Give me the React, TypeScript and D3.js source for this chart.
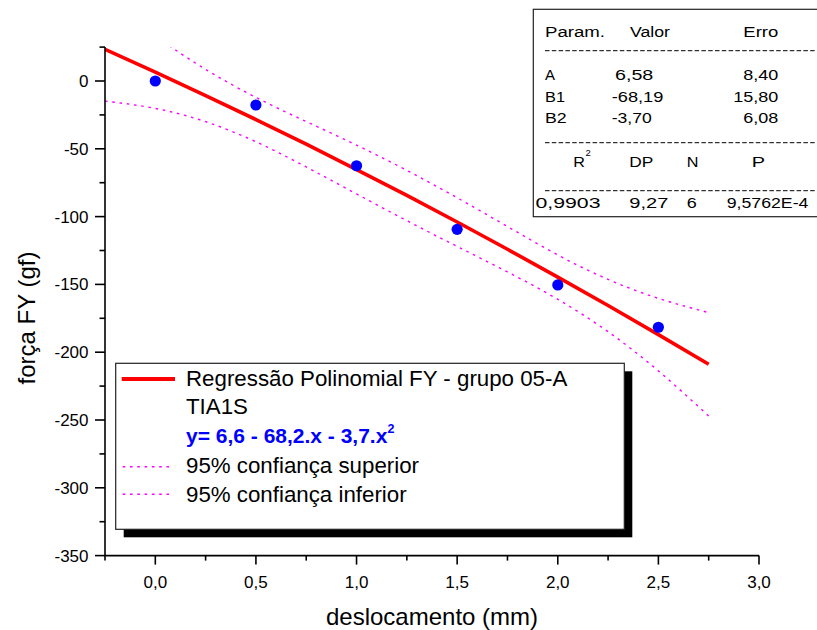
import React from "react";
import * as d3 from "d3";

// ---- data ----
const pointsX = [0, 0.5, 1.0, 1.5, 2.0, 2.5];
const pointsY = [0, -17.7, -62.5, -109.4, -150.4, -181.6];

const curveX = [-0.25, 0, 0.25, 0.5, 0.75, 1.0, 1.25, 1.5, 1.75, 2.0, 2.25, 2.5, 2.75];
const fitY = [23.4, 6.6, -10.7, -28.4, -46.6, -65.3, -84.4, -104.0, -124.1, -144.6, -165.6, -187.0, -208.9];
const upperY = [61.6, 33.3, 8.6, -12.1, -29.9, -47.3, -65.9, -86.1, -107.3, -128.3, -146.3, -160.3, -170.8];
const lowerY = [-14.8, -20.2, -30.0, -44.8, -63.4, -83.3, -103.0, -122.0, -140.8, -161.0, -184.9, -213.8, -247.1];

const xMajorTicks = [0, 0.5, 1.0, 1.5, 2.0, 2.5, 3.0];
const xTickLabels = ["0,0", "0,5", "1,0", "1,5", "2,0", "2,5", "3,0"];
const xMinorTicks = [-0.25, 0.25, 0.75, 1.25, 1.75, 2.25, 2.75];
const yMajorTicks = [0, -50, -100, -150, -200, -250, -300, -350];
const yTickLabels = ["0", "-50", "-100", "-150", "-200", "-250", "-300", "-350"];
const yMinorTicks = [25, -25, -75, -125, -175, -225, -275, -325];

const xTitle = "deslocamento (mm)";
const yTitle = "força FY (gf)";

const legendLabels = [
  "Regressão Polinomial FY - grupo 05-A",
  "TIA1S",
  "y= 6,6 - 68,2.x - 3,7.x",
  "95% confiança superior",
  "95% confiança inferior",
];

const tableRows: { t: string; x: number; w: number; y: number }[] = [
  { t: "Param.", x: 545, w: 60, y: 36.7 },
  { t: "Valor", x: 630, w: 40, y: 36.7 },
  { t: "Erro", x: 743.3, w: 35, y: 36.7 },
  { t: "A", x: 545, w: 10, y: 80 },
  { t: "6,58", x: 615, w: 38.3, y: 80 },
  { t: "8,40", x: 743.3, w: 35, y: 80 },
  { t: "B1", x: 545, w: 20, y: 101.7 },
  { t: "-68,19", x: 611.7, w: 51.7, y: 101.7 },
  { t: "15,80", x: 733.3, w: 45, y: 101.7 },
  { t: "B2", x: 545, w: 21.7, y: 122.7 },
  { t: "-3,70", x: 611.7, w: 40, y: 122.7 },
  { t: "6,08", x: 743.3, w: 35, y: 122.7 },
  { t: "R", x: 573.3, w: 11.7, y: 166.7 },
  { t: "DP", x: 629.3, w: 24, y: 166.7 },
  { t: "N", x: 686.7, w: 11.7, y: 166.7 },
  { t: "P", x: 751.7, w: 13.3, y: 166.7 },
  { t: "0,9903", x: 535.5, w: 65, y: 208.3 },
  { t: "9,27", x: 629.3, w: 39, y: 208.3 },
  { t: "6", x: 686.7, w: 10, y: 208.3 },
  { t: "9,5762E-4", x: 726.7, w: 81.7, y: 208.3 },
];
const tableDashY = [50.7, 142.7, 190.7];

const FONT = "'Liberation Sans', Arial, Helvetica, sans-serif";

export default function App() {
  const W = 817;
  const H = 630;
  const x = d3.scaleLinear().domain([-0.25, 3.0]).range([105, 759]);
  const y = d3.scaleLinear().domain([-350, 25]).range([555.6, 47.1]);

  const mk = (ys: number[]) =>
    d3
      .line<number>()
      .x((_, i) => x(curveX[i]))
      .y((d) => y(d))
      .curve(d3.curveNatural)(ys) || "";

  const fitPath = mk(fitY);
  const upPath = mk(upperY);
  const loPath = mk(lowerY);

  const x0 = x.range()[0];
  const x1 = x.range()[1];
  const y0 = y.range()[0];
  const y1 = y.range()[1];

  const magenta = "#FF00FF";
  const dotDash = "2.6,4.7";

  // legend
  const lgX = 115.7;
  const lgY = 363.3;
  const lgW = 508.6;
  const lgH = 166;
  const lgText = 186;
  const lgBase = [385.7, 414, 443.3, 473.3, 502.3];

  return (
    <svg
      width={W}
      height={H}
      style={{ position: "absolute", left: 0, top: 0, display: "block", background: "#fff" }}
      fontFamily={FONT}
    >
      <defs>
        <clipPath id="plotClip">
          <rect x={x0} y={y1} width={x1 - x0} height={y0 - y1} />
        </clipPath>
      </defs>
      <rect x={0} y={0} width={W} height={H} fill="#fff" />

      {/* confidence bands and fit */}
      <g clipPath="url(#plotClip)">
        <path d={upPath} fill="none" stroke={magenta} strokeWidth={1.4} strokeDasharray={dotDash} />
        <path d={loPath} fill="none" stroke={magenta} strokeWidth={1.4} strokeDasharray={dotDash} />
        <path d={fitPath} fill="none" stroke="#FF0000" strokeWidth={3.6} />
      </g>

      {/* points */}
      {pointsX.map((px, i) => (
        <circle key={i} cx={x(px)} cy={y(pointsY[i])} r={5.6} fill="#0000FF" />
      ))}

      {/* axes */}
      <g stroke="#000" strokeWidth={1.6}>
        <line x1={x0} x2={x1} y1={y0} y2={y0} />
        <line x1={x0} x2={x0} y1={y1} y2={y0} />
        {xMajorTicks.map((t) => (
          <line key={"xM" + t} x1={x(t)} x2={x(t)} y1={y0} y2={y0 + 9} />
        ))}
        {xMinorTicks.map((t) => (
          <line key={"xm" + t} x1={x(t)} x2={x(t)} y1={y0} y2={y0 + 5} />
        ))}
        {yMajorTicks.map((t) => (
          <line key={"yM" + t} x1={x0 - 10} x2={x0} y1={y(t)} y2={y(t)} />
        ))}
        {yMinorTicks.map((t) => (
          <line key={"ym" + t} x1={x0 - 5.5} x2={x0} y1={y(t)} y2={y(t)} />
        ))}
      </g>
      <g fontSize={17} fill="#000">
        {xMajorTicks.map((t, i) => (
          <text key={"xl" + t} x={x(t)} y={588} textAnchor="middle">
            {xTickLabels[i]}
          </text>
        ))}
        {yMajorTicks.map((t, i) => (
          <text key={"yl" + t} x={88.5} y={y(t) + 6} textAnchor="end">
            {yTickLabels[i]}
          </text>
        ))}
      </g>
      <text x={(x0 + x1) / 2} y={625} fontSize={24} textAnchor="middle" fill="#000">
        {xTitle}
      </text>
      <text transform="translate(35,318) rotate(-90)" fontSize={24} textAnchor="middle" fill="#000">
        {yTitle}
      </text>

      {/* legend */}
      <rect x={lgX + 8} y={lgY + 8} width={lgW} height={lgH} fill="#000" />
      <rect x={lgX} y={lgY} width={lgW} height={lgH} fill="#fff" stroke="#222" strokeWidth={1.2} />
      <line x1={121.7} x2={175} y1={379} y2={379} stroke="#FF0000" strokeWidth={4} />
      <line x1={122.7} x2={172} y1={466.7} y2={466.7} stroke={magenta} strokeWidth={1.4} strokeDasharray={dotDash} />
      <line x1={122.7} x2={172} y1={494.3} y2={494.3} stroke={magenta} strokeWidth={1.4} strokeDasharray={dotDash} />
      <g fontSize={22.3} fill="#000">
        <text x={lgText} y={lgBase[0]}>{legendLabels[0]}</text>
        <text x={lgText} y={lgBase[1]}>{legendLabels[1]}</text>
        <text x={lgText} y={lgBase[2]} fill="#0000FF" fontWeight="bold" fontSize={21}>
          {legendLabels[2]}
          <tspan fontSize={12.5} dy={-10}>2</tspan>
        </text>
        <text x={lgText} y={lgBase[3]}>{legendLabels[3]}</text>
        <text x={lgText} y={lgBase[4]}>{legendLabels[4]}</text>
      </g>

      {/* parameter table */}
      <rect x={533.3} y={9.3} width={300} height={207.4} fill="#fff" stroke="#222" strokeWidth={1.2} />
      {tableDashY.map((dy) => (
        <line key={dy} x1={545} x2={817} y1={dy} y2={dy} stroke="#000" strokeWidth={1} strokeDasharray="4.5,2.3" />
      ))}
      <g fontSize={15.5} fill="#000">
        {tableRows.map((r, i) => (
          <text key={i} x={r.x} y={r.y} textLength={r.w} lengthAdjust="spacingAndGlyphs">
            {r.t}
          </text>
        ))}
        <text x={585.5} y={156} fontSize={9.5}>2</text>
      </g>
    </svg>
  );
}
